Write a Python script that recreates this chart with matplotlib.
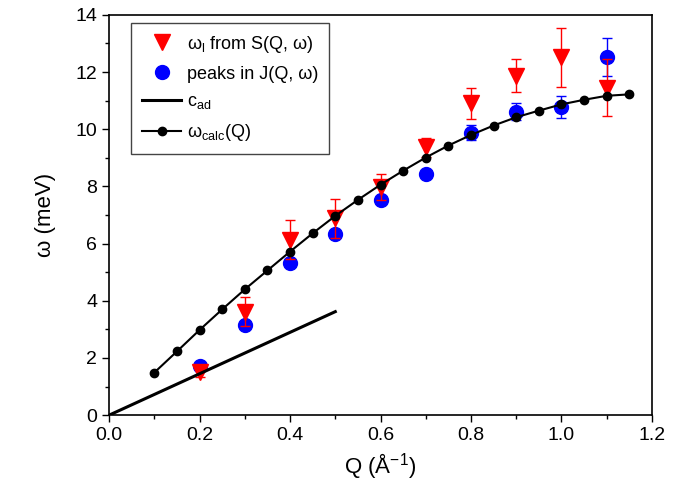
import matplotlib
matplotlib.use('Agg')
import matplotlib.pyplot as plt
import numpy as np

plt.rcParams['font.family'] = ['Liberation Sans', 'DejaVu Sans']
plt.rcParams['mathtext.fontset'] = 'custom'
plt.rcParams['mathtext.rm'] = 'Liberation Sans'
plt.rcParams['mathtext.it'] = 'Liberation Sans'

# omega_l from S(Q,w)
q_s = [0.2, 0.3, 0.4, 0.5, 0.6, 0.7, 0.8, 0.9, 1.0, 1.1]
w_s = [1.52, 3.62, 6.13, 6.88, 7.97, 9.37, 10.91, 11.87, 12.52, 11.46]
err_s = [0.2, 0.5, 0.68, 0.67, 0.45, 0.33, 0.55, 0.57, 1.03, 1.0]

# peaks in J(Q,w)
q_j = [0.2, 0.3, 0.4, 0.5, 0.6, 0.7, 0.8, 0.9, 1.0, 1.1]
w_j = [1.72, 3.17, 5.31, 6.35, 7.54, 8.42, 9.88, 10.62, 10.79, 12.52]
err_j = [0.1, 0.1, 0.1, 0.1, 0.1, 0.05, 0.27, 0.3, 0.38, 0.67]

# c_ad
q_ad = [0.0, 0.5]
w_ad = [0.0, 3.62]

# omega_calc(Q)
q_calc = [0.1, 0.15, 0.2, 0.25, 0.3, 0.35, 0.4, 0.45, 0.5, 0.55, 0.6,
          0.65, 0.7, 0.75, 0.8, 0.85, 0.9, 0.95, 1.0, 1.05, 1.1, 1.15]
w_calc = [1.49, 2.23, 2.98, 3.70, 4.40, 5.06, 5.72, 6.36, 6.97, 7.53, 8.06,
          8.55, 9.01, 9.43, 9.80, 10.13, 10.42, 10.65, 10.87, 11.03, 11.17, 11.22]

fig = plt.figure(figsize=(6.95, 4.96), dpi=100)
ax = fig.add_axes([0.157, 0.163, 0.781, 0.807])

hj = ax.errorbar(q_j, w_j, yerr=err_j, fmt='o', color='blue', ms=10,
                 capsize=3.5, elinewidth=1, capthick=1, zorder=2)
hs = ax.errorbar(q_s, w_s, yerr=err_s, fmt='v', color='red', ms=11,
                 capsize=3.5, elinewidth=1, capthick=1, zorder=3)
had, = ax.plot(q_ad, w_ad, '-', color='black', lw=2.2, zorder=4)
hc, = ax.plot(q_calc, w_calc, '-o', color='black', lw=1.5, ms=6, zorder=5)

ax.set_xlim(0, 1.2)
ax.set_ylim(0, 14)
ax.set_xticks(np.arange(0, 1.21, 0.2))
ax.set_xticks(np.arange(0.1, 1.2, 0.2), minor=True)
ax.set_yticks(np.arange(0, 15, 2))
ax.set_yticks(np.arange(1, 14, 2), minor=True)
ax.xaxis.set_major_formatter(matplotlib.ticker.FormatStrFormatter('%.1f'))
ax.tick_params(which='major', direction='out', length=5, width=1, labelsize=14)
ax.tick_params(which='minor', direction='out', length=3, width=1)
ax.tick_params(top=False, right=False, which='both')
for s in ax.spines.values():
    s.set_linewidth(1.2)

ax.set_xlabel('Q (Å$^{-1}$)', fontsize=16, labelpad=5)
ax.set_ylabel('ω (meV)', fontsize=16, labelpad=14)

leg = ax.legend([hs[0], hj[0], had, hc],
                ['ω$_{\\mathrm{l}}$ from S(Q, ω)', 'peaks in J(Q, ω)',
                 'c$_{\\mathrm{ad}}$', 'ω$_{\\mathrm{calc}}$(Q)'],
                loc='upper left', bbox_to_anchor=(0.04, 0.98), borderaxespad=0,
                fontsize=13, fancybox=False, edgecolor='#444444', framealpha=1,
                handlelength=2.2, handletextpad=0.3, borderpad=0.6,
                labelspacing=0.6)
leg.get_frame().set_linewidth(1)

fig.savefig('out.png', dpi=100)
